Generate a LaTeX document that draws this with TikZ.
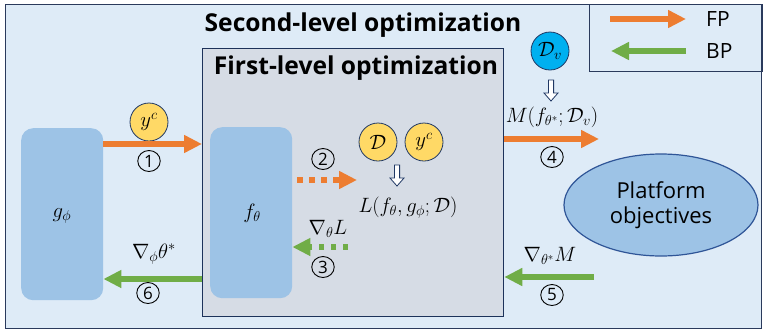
\documentclass[tikz,border=0pt]{standalone}
\usepackage{fontspec}
\setmainfont{Open Sans}
\usetikzlibrary{arrows.meta,shapes.geometric}
\definecolor{outerfill}{HTML}{DEEBF7}
\definecolor{outerline}{HTML}{2A3A5C}
\definecolor{innerfill}{HTML}{D6DCE5}
\definecolor{boxblue}{HTML}{9DC3E6}
\definecolor{orangeA}{HTML}{ED7D31}
\definecolor{greenA}{HTML}{70AD47}
\definecolor{yellowA}{HTML}{FFD966}
\definecolor{cyanA}{HTML}{00B0F0}
\definecolor{navy}{HTML}{203864}
\definecolor{ellline}{HTML}{2F5597}
\tikzset{
  frame/.style={draw=outerline, line width=1pt, anchor=north west, inner sep=0pt},
  blockbox/.style={fill=boxblue, rounded corners=12pt, anchor=north west, inner sep=0pt, minimum width=82pt},
  ballY/.style={circle, draw=navy, line width=0.8pt, fill=yellowA, minimum size=38pt, inner sep=0pt, font=\fontsize{22}{24}\selectfont},
  ballC/.style={circle, draw=navy, line width=0.8pt, fill=cyanA, minimum size=38pt, inner sep=0pt, font=\fontsize{22}{24}\selectfont},
  titletext/.style={font=\fontsize{24.6}{27}\selectfont\bfseries, inner sep=0pt},
  plaintext/.style={font=\fontsize{21}{24}\selectfont, inner sep=0pt},
  mathtext/.style={font=\fontsize{22}{24}\selectfont, inner sep=0pt},
  numtext/.style={ellipse, draw=black, line width=0.9pt, minimum width=22.5pt, minimum height=21pt, inner sep=0pt, font=\fontsize{17}{18}\selectfont},
  fparrow/.style={draw=orangeA, line width=5.5pt, -{Triangle[length=18pt,width=17pt]}},
  bparrow/.style={draw=greenA, line width=5.5pt, -{Triangle[length=18pt,width=17pt]}},
  dotted arrow/.style={dash pattern=on 5.5pt off 6.5pt},
  hollowdown/.pic={\draw[navy, fill=white, line width=0.8pt] (-2.6,0) -- (-2.6,13) -- (-7,13) -- (0,21) -- (7,13) -- (2.6,13) -- (2.6,0) -- cycle;}
}
\begin{document}
\begin{tikzpicture}[x=1pt,y=-1pt]
\useasboundingbox (0,0) rectangle (764,333);
% frames
\node[frame, fill=outerfill, minimum width=756pt, minimum height=324pt] (outer) at (5,4) {};
\node[frame, minimum width=173pt, minimum height=67pt] (legend) at (589,4) {};
\node[frame, fill=innerfill, line width=1.3pt, draw=navy!90!black, minimum width=301pt, minimum height=268pt] (inner) at (202,48) {};
% titles
\node[titletext] (title2) at (363,25) {Second-level optimization};
\node[titletext] (title1) at (356,68) {First-level optimization};
% blocks
\node[blockbox, minimum height=172pt] (gbox) at (21,128) {};
\node[mathtext] (glabel) at (62,216) {$g_\phi$};
\node[blockbox, minimum height=171pt] (fbox) at (210,127) {};
\node[mathtext] (flabel) at (252,213) {$f_\theta$};
\node[ellipse, draw=ellline, line width=1.2pt, fill=boxblue, minimum width=194pt, minimum height=102pt, inner sep=0pt, align=center, font=\fontsize{22}{25}\selectfont] (plat) at (661,205) {Platform\\objectives};
% balls
\node[ballY] (yc1) at (149,122) {$y^c$};
\node[ballY] (dset) at (378,142) {$\mathcal{D}$};
\node[ballY] (yc2) at (424,142) {$y^c$};
\node[ballC] (dv) at (550,51) {$\mathcal{D}_v$};
% hollow arrows
\pic at (397,165) {hollowdown};
\pic at (551,80) {hollowdown};
% formulas
\node[mathtext] (loss) at (408,208) {$L(f_\theta,g_\phi;\mathcal{D})$};
\node[mathtext] (metric) at (552,117) {$M(f_{\theta^*};\mathcal{D}_v)$};
\node[mathtext] (gradL) at (328,229) {$\nabla_\theta L$};
\node[mathtext] (gradM) at (550,256) {$\nabla_{\theta^*} M$};
\node[mathtext] (gradT) at (154,254) {$\nabla_\phi \theta^*$};
% numbers
\node[numtext] (n1) at (149,161) {1};
\node[numtext] (n2) at (323,159) {2};
\node[numtext] (n3) at (323,267) {3};
\node[numtext] (n4) at (552,157) {4};
\node[numtext] (n5) at (552,295) {5};
\node[numtext] (n6) at (148,293) {6};
% legend
\coordinate (fpA) at (610,19);
\coordinate (fpB) at (686,19);
\coordinate (bpA) at (686,51);
\coordinate (bpB) at (611,51);
\draw[fparrow] (fpA) -- (fpB);
\draw[bparrow] (bpA) -- (bpB);
\node[plaintext, anchor=west] (fp) at (706,19) {FP};
\node[plaintext, anchor=west] (bp) at (706,51) {BP};
% level coordinates
\coordinate (y1) at (0,144);
\coordinate (y2) at (0,180);
\coordinate (y3) at (0,247);
\coordinate (y4) at (0,139);
\coordinate (y5) at (0,277);
\coordinate (y6) at (0,279);
\coordinate (e2) at (357,180);
\coordinate (s3) at (348,247);
\coordinate (e4) at (599,139);
\coordinate (s5) at (594,277);
% connectors
\draw[fparrow] (gbox.east |- y1) -- (inner.west |- y1);
\draw[fparrow, dotted arrow, shorten <=5pt] (fbox.east |- y2) -- (e2);
\draw[bparrow, dotted arrow] (s3) -- (fbox.east |- y3);
\draw[fparrow] (inner.east |- y4) -- (e4);
\draw[bparrow] (s5) -- (inner.east |- y5);
\draw[bparrow] (inner.west |- y6) -- (gbox.east |- y6);
\end{tikzpicture}
\end{document}
